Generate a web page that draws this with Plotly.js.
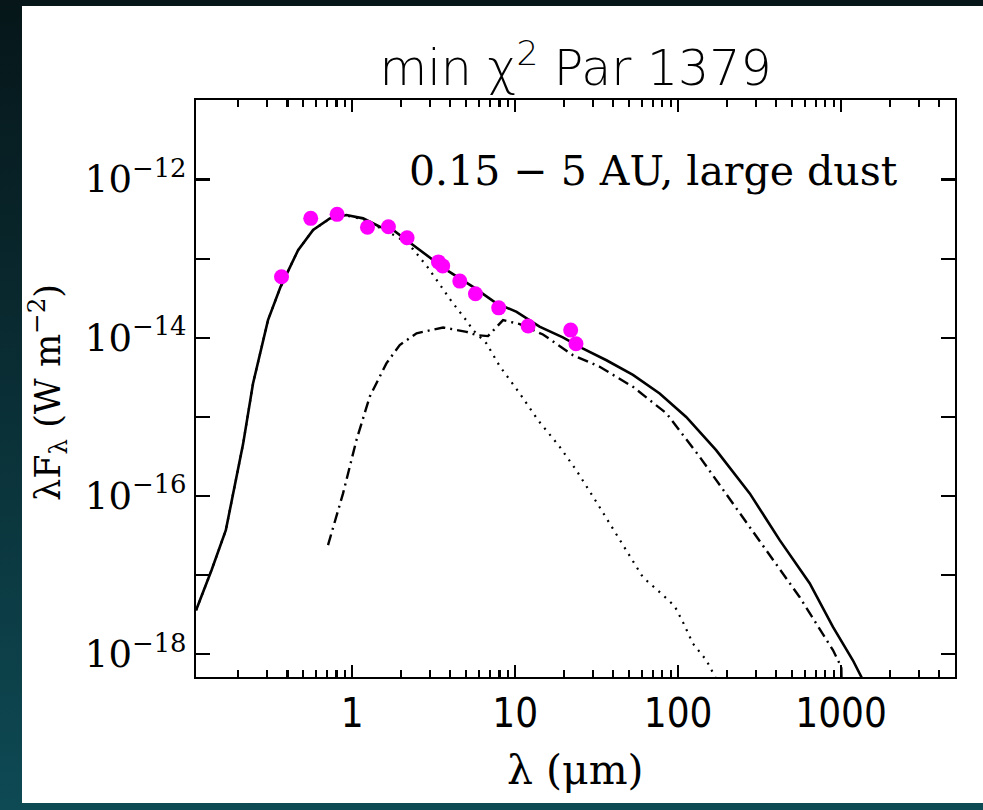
<!DOCTYPE html>
<html>
<head>
<meta charset="utf-8">
<script src="https://cdn.plot.ly/plotly-3.0.1.min.js"></script>
<style>
  html, body { margin: 0; padding: 0; width: 983px; height: 810px; overflow: hidden;
    background: linear-gradient(to bottom, #061619 0%, #0a2f36 50%, #0e4a54 100%); }
  #chart { position: absolute; left: 22px; top: 6px; width: 961px; height: 797px; background: #ffffff; }
</style>
</head>
<body>
<div id="chart"></div>
<script>
// Total model SED (solid)
const totalLam = [0.11, 0.137, 0.1675, 0.186, 0.214, 0.246, 0.304, 0.363, 0.465, 0.575, 0.728, 0.921, 1.165, 1.475, 1.78, 2.36, 3.13, 3.78, 5.51, 7.67, 10.2, 14.1, 19.6, 26.1, 36.3, 52.8, 77.0, 112, 171, 275, 420, 641, 891, 1181, 1330, 1450];
const totalFlux = [3.6e-18, 1.16e-17, 3.7e-17, 1.08e-16, 4.6e-16, 2.65e-15, 1.67e-14, 4.4e-14, 1.28e-13, 2.3e-13, 3.23e-13, 3.56e-13, 3.23e-13, 2.53e-13, 2.3e-13, 1.49e-13, 9.6e-14, 7.2e-14, 4.4e-14, 2.72e-14, 2.13e-14, 1.38e-14, 1.01e-14, 7.3e-15, 5.2e-15, 3.4e-15, 1.98e-15, 1.0e-15, 3.8e-16, 1.08e-16, 2.77e-17, 7.9e-18, 2.22e-18, 8.4e-19, 5.2e-19, 3.5e-19];

// Stellar photosphere (dotted)
const starLam = [0.11, 0.137, 0.1675, 0.186, 0.214, 0.246, 0.304, 0.363, 0.465, 0.575, 0.728, 0.921, 1.165, 1.475, 1.9, 2.36, 2.9, 3.5, 4.06, 5.0, 5.51, 6.66, 8.03, 10.66, 13.8, 18.75, 23.7, 31.5, 43.8, 60.8, 80.7, 95.2, 107, 123, 149, 167.5, 180];
const starFlux = [3.6e-18, 1.16e-17, 3.7e-17, 1.08e-16, 4.6e-16, 2.65e-15, 1.67e-14, 4.4e-14, 1.28e-13, 2.3e-13, 3.2e-13, 3.5e-13, 3.15e-13, 2.45e-13, 1.88e-13, 1.32e-13, 7.8e-14, 4.5e-14, 2.9e-14, 1.67e-14, 1.25e-14, 8.5e-15, 4.39e-15, 1.98e-15, 9.1e-16, 4.19e-16, 2.12e-16, 8.4e-17, 2.77e-17, 9.4e-18, 5.6e-18, 4.06e-18, 2.55e-18, 1.37e-18, 8.4e-19, 5.4e-19, 4e-19];

// Disk emission (dash-dot)
const diskLam = [0.71, 0.878, 1.061, 1.28, 1.62, 1.956, 2.48, 3.61, 5.02, 5.78, 6.81, 8.42, 10.66, 14.8, 22.6, 33.0, 52.8, 84.7, 135.5, 217, 348, 556, 891, 1003, 1010];
const diskFlux = [2.4e-17, 1.08e-16, 5.1e-16, 1.8e-15, 4.75e-15, 8.1e-15, 1.14e-14, 1.35e-14, 1.19e-14, 1.08e-14, 1.05e-14, 1.67e-14, 1.49e-14, 1.1e-14, 6.04e-15, 4.3e-15, 2.4e-15, 1.11e-15, 3.13e-16, 8.06e-17, 2.07e-17, 5.3e-18, 1.13e-18, 6.9e-19, 3e-19];

// Photometry (magenta points)
const obsLam = [0.368, 0.556, 0.807, 1.24, 1.667, 2.17, 3.38, 3.59, 4.57, 5.70, 7.92, 12.0, 21.9, 23.6];
const obsFlux = [5.9e-14, 3.23e-13, 3.63e-13, 2.49e-13, 2.53e-13, 1.84e-13, 9.1e-14, 8.1e-14, 5.2e-14, 3.6e-14, 2.39e-14, 1.41e-14, 1.25e-14, 8.4e-15];

// Axis ticks
const xTickVals = [1, 10, 100, 1000];
const xTickText = ['1', '10', '100', '1000'];
const yExponents = [-11, -12, -13, -14, -15, -16, -17, -18];
const yLabelled = [-12, -14, -16, -18];

const yTickVals = yExponents.map(e => Math.pow(10, e));
const yTickText = yExponents.map(e => yLabelled.includes(e) ? '10<sup>\u2212' + Math.abs(e) + '</sup>' : ' ');
const xMinor = [];
[0.1, 1, 10, 100, 1000].forEach(d => { for (let k = 2; k <= 9; k++) xMinor.push(d * k); });

const X_RANGE = [-0.959, 3.699];

const traces = [
  { x: starLam, y: starFlux, type: 'scatter', mode: 'lines',
    line: { color: '#000', width: 2.2, dash: '2px,6px' }, hoverinfo: 'skip' },
  { x: diskLam, y: diskFlux, type: 'scatter', mode: 'lines',
    line: { color: '#000', width: 2.4, dash: '11px,5px,2px,5px' }, hoverinfo: 'skip' },
  { x: totalLam, y: totalFlux, type: 'scatter', mode: 'lines',
    line: { color: '#000', width: 2.6 }, hoverinfo: 'skip' },
  { x: obsLam, y: obsFlux, type: 'scatter', mode: 'markers', xaxis: 'x2',
    marker: { color: '#ff00ff', size: 15, line: { width: 0 } }, hoverinfo: 'skip' }
];

const serif = 'DejaVu Serif, Liberation Serif, serif';
const layout = {
  width: 961, height: 797,
  margin: { l: 174, r: 28, t: 94, b: 126 },
  paper_bgcolor: '#ffffff', plot_bgcolor: '#ffffff',
  showlegend: false,
  title: { text: 'min \u03c7<sup>2</sup> Par 1379', x: 0.5, xref: 'paper', xanchor: 'center',
    y: 0.922, yref: 'container', yanchor: 'middle',
    font: { family: 'DejaVu Sans, sans-serif', size: 49, color: '#000', weight: 200 } },
  xaxis: {
    type: 'log', range: X_RANGE,
    tickmode: 'array', tickvals: xTickVals, ticktext: xTickText,
    ticks: 'inside', ticklen: 12, tickwidth: 2.2, tickcolor: '#000',
    showline: true, linewidth: 2, linecolor: '#000', mirror: 'ticks',
    showgrid: false, zeroline: false,
    tickfont: { family: 'DejaVu Sans Condensed, Liberation Sans Narrow, sans-serif', size: 40, color: '#000' }
  },
  xaxis2: {
    type: 'log', range: X_RANGE, overlaying: 'x', anchor: 'y', side: 'bottom',
    tickmode: 'array', tickvals: xMinor, showticklabels: false,
    ticks: 'inside', ticklen: 7, tickwidth: 2.2, tickcolor: '#000',
    showline: false, mirror: 'ticks', showgrid: false, zeroline: false
  },
  yaxis: {
    type: 'log', range: [-18.287, -10.995],
    tickmode: 'array', tickvals: yTickVals, ticktext: yTickText,
    ticks: 'inside', ticklen: 14, tickwidth: 2.2, tickcolor: '#000',
    showline: true, linewidth: 2, linecolor: '#000', mirror: 'ticks',
    showgrid: false, zeroline: false,
    tickfont: { family: serif, size: 37, color: '#000' }
  },
  annotations: [
    { text: '0.15 \u2212 5 AU, large dust', xref: 'paper', yref: 'paper', x: 0.9275, y: 0.877,
      xanchor: 'right', yanchor: 'middle', showarrow: false,
      font: { family: serif, size: 41, color: '#000' } },
    { text: '\u03bbF<sub>\u03bb</sub> (W m<sup>\u22122</sup>)', xref: 'paper', yref: 'paper', x: -0.195, y: 0.494,
      xanchor: 'center', yanchor: 'middle', textangle: -90, showarrow: false,
      font: { family: serif, size: 35, color: '#000' } },
    { text: '\u03bb (\u03bcm)', xref: 'paper', yref: 'paper', x: 0.5, y: -0.161,
      xanchor: 'center', yanchor: 'middle', showarrow: false,
      font: { family: serif, size: 41, color: '#000' } }
  ]
};

Plotly.newPlot('chart', traces, layout, { displayModeBar: false, staticPlot: true });
</script>
</body>
</html>
